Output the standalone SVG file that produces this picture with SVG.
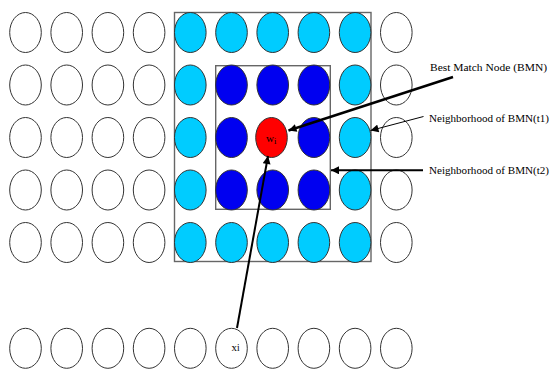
<svg xmlns="http://www.w3.org/2000/svg" width="554" height="369" viewBox="0 0 554 369">
  <style>
    .n { stroke: #333; stroke-width: 1; }
    .w { fill: #fff; }
    .c { fill: #00CCFF; }
    .b { fill: #0000F0; }
    .r { fill: #FF0000; }
    .box { fill: none; stroke: #666; stroke-width: 1.4; }
    .lbl { font-family: "Liberation Serif", "Times New Roman", serif; font-size: 11.3px; fill: #000; }
    .sym { font-family: "Liberation Serif", "Times New Roman", serif; font-size: 11px; fill: #000; stroke: none; }
    .conn { stroke: #000; fill: none; }
  </style>
  <defs>
    <marker id="ah" viewBox="0 0 10 10" refX="10" refY="5" markerWidth="9" markerHeight="8" markerUnits="userSpaceOnUse" orient="auto">
      <path d="M0,0 L10,5 L0,10 z" fill="#000"/>
    </marker>
    <ellipse id="e" rx="15.8" ry="20"/>
  </defs>

  <rect width="554" height="369" fill="#fff"/>

  <!-- neighbourhood boxes -->
  <g id="neighborhood-t1"><rect class="box" x="174.5" y="12.5" width="196.5" height="249"/></g>
  <g id="neighborhood-t2"><rect class="box" x="215.7" y="65.7" width="114.6" height="143.6"/></g>

  <!-- map grid: row 1 -->
  <g id="row1" class="n">
    <use href="#e" class="w" x="25.5" y="32.5"/>
    <use href="#e" class="w" x="66.7" y="32.5"/>
    <use href="#e" class="w" x="107.9" y="32.5"/>
    <use href="#e" class="w" x="149.1" y="32.5"/>
    <use href="#e" class="c" x="190.3" y="32.5"/>
    <use href="#e" class="c" x="231.5" y="32.5"/>
    <use href="#e" class="c" x="272.7" y="32.5"/>
    <use href="#e" class="c" x="313.9" y="32.5"/>
    <use href="#e" class="c" x="355.1" y="32.5"/>
    <use href="#e" class="w" x="396.3" y="32.5"/>
  </g>
  <!-- row 2 -->
  <g id="row2" class="n">
    <use href="#e" class="w" x="25.5" y="85"/>
    <use href="#e" class="w" x="66.7" y="85"/>
    <use href="#e" class="w" x="107.9" y="85"/>
    <use href="#e" class="w" x="149.1" y="85"/>
    <use href="#e" class="c" x="190.3" y="85"/>
    <use href="#e" class="b" x="231.5" y="85"/>
    <use href="#e" class="b" x="272.7" y="85"/>
    <use href="#e" class="b" x="313.9" y="85"/>
    <use href="#e" class="c" x="355.1" y="85"/>
    <use href="#e" class="w" x="396.3" y="85"/>
  </g>
  <!-- row 3 -->
  <g id="row3" class="n">
    <use href="#e" class="w" x="25.5" y="137.5"/>
    <use href="#e" class="w" x="66.7" y="137.5"/>
    <use href="#e" class="w" x="107.9" y="137.5"/>
    <use href="#e" class="w" x="149.1" y="137.5"/>
    <use href="#e" class="c" x="190.3" y="137.5"/>
    <use href="#e" class="b" x="231.5" y="137.5"/>
    <use href="#e" class="b" x="313.9" y="137.5"/>
    <use href="#e" class="c" x="355.1" y="137.5"/>
    <use href="#e" class="w" x="396.3" y="137.5"/>
  </g>
  <!-- best match node -->
  <g id="bmn" class="n">
    <use href="#e" class="r" x="271.5" y="137.5"/>
    <text class="sym" x="266" y="141.5">w<tspan font-size="8.5" dy="2.5">i</tspan></text>
  </g>
  <!-- row 4 -->
  <g id="row4" class="n">
    <use href="#e" class="w" x="25.5" y="190"/>
    <use href="#e" class="w" x="66.7" y="190"/>
    <use href="#e" class="w" x="107.9" y="190"/>
    <use href="#e" class="w" x="149.1" y="190"/>
    <use href="#e" class="c" x="190.3" y="190"/>
    <use href="#e" class="b" x="231.5" y="190"/>
    <use href="#e" class="b" x="272.7" y="190"/>
    <use href="#e" class="b" x="313.9" y="190"/>
    <use href="#e" class="c" x="355.1" y="190"/>
    <use href="#e" class="w" x="396.3" y="190"/>
  </g>
  <!-- row 5 -->
  <g id="row5" class="n">
    <use href="#e" class="w" x="25.5" y="242.5"/>
    <use href="#e" class="w" x="66.7" y="242.5"/>
    <use href="#e" class="w" x="107.9" y="242.5"/>
    <use href="#e" class="w" x="149.1" y="242.5"/>
    <use href="#e" class="c" x="190.3" y="242.5"/>
    <use href="#e" class="c" x="231.5" y="242.5"/>
    <use href="#e" class="c" x="272.7" y="242.5"/>
    <use href="#e" class="c" x="313.9" y="242.5"/>
    <use href="#e" class="c" x="355.1" y="242.5"/>
    <use href="#e" class="w" x="396.3" y="242.5"/>
  </g>

  <!-- input layer -->
  <g id="inputs" class="n">
    <use href="#e" class="w" x="25.5" y="348.3"/>
    <use href="#e" class="w" x="66.7" y="348.3"/>
    <use href="#e" class="w" x="107.9" y="348.3"/>
    <use href="#e" class="w" x="149.1" y="348.3"/>
    <use href="#e" class="w" x="190.3" y="348.3"/>
    <use href="#e" class="w" x="272.7" y="348.3"/>
    <use href="#e" class="w" x="313.9" y="348.3"/>
    <use href="#e" class="w" x="355.1" y="348.3"/>
    <use href="#e" class="w" x="396.3" y="348.3"/>
  </g>
  <g id="xi" class="n">
    <use href="#e" class="w" x="231.5" y="348.3"/>
    <text class="sym" x="231.5" y="351">x<tspan font-size="9.5">i</tspan></text>
  </g>

  <!-- connectors -->
  <g id="connectors" class="conn">
    <line x1="453" y1="77" x2="288.5" y2="130.5" stroke-width="2.5" marker-end="url(#ah)"/>
    <line x1="423.5" y1="116.5" x2="370.5" y2="130.5" stroke-width="1" marker-end="url(#ah)"/>
    <line x1="423" y1="170.3" x2="331" y2="170.3" stroke-width="2" marker-end="url(#ah)"/>
    <line x1="237" y1="328" x2="268" y2="156" stroke-width="2" marker-end="url(#ah)"/>
  </g>

  <!-- labels -->
  <g id="labels">
    <text class="lbl" x="430" y="70.5" textLength="117" lengthAdjust="spacingAndGlyphs">Best Match Node (BMN)</text>
    <text class="lbl" x="429" y="121.5" textLength="120" lengthAdjust="spacingAndGlyphs">Neighborhood of BMN(t1)</text>
    <text class="lbl" x="429" y="173.5" textLength="120" lengthAdjust="spacingAndGlyphs">Neighborhood of BMN(t2)</text>
  </g>
</svg>
